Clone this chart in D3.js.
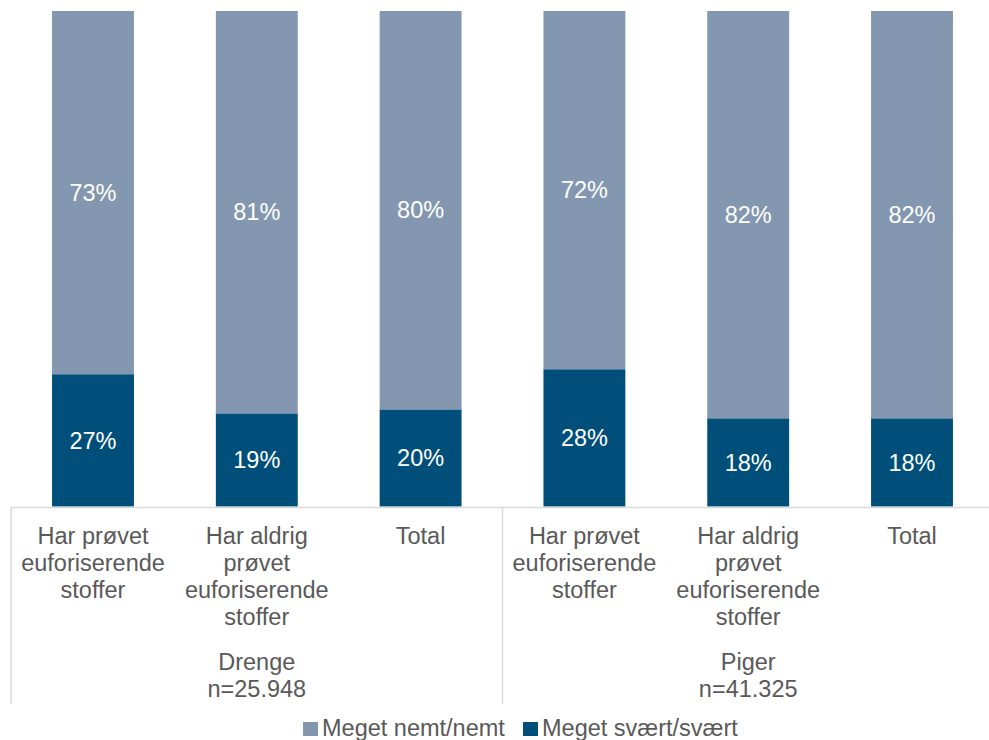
<!DOCTYPE html>
<html><head><meta charset="utf-8">
<script src="https://cdn.jsdelivr.net/npm/d3@7"></script>
<style>body{margin:0;background:#fff;}svg{display:block;font-family:"Liberation Sans",Arial,sans-serif;}</style>
</head><body><svg id="c" width="989" height="740"></svg>
<script>
const categories = [
  ["Har prøvet","euforiserende","stoffer"],
  ["Har aldrig","prøvet","euforiserende","stoffer"],
  ["Total"],
  ["Har prøvet","euforiserende","stoffer"],
  ["Har aldrig","prøvet","euforiserende","stoffer"],
  ["Total"]
];
const groups = [["Drenge","n=25.948"],["Piger","n=41.325"]];
const hard = [26.7, 18.8, 19.6, 27.7, 17.8, 17.8];   // Meget svært/svært
const easy = [73.3, 81.2, 80.4, 72.3, 82.2, 82.2];   // Meget nemt/nemt
const seriesNames = ["Meget nemt/nemt","Meget svært/svært"];
const colors = ["#8497b0","#004f7a"];

const FS = 23.5;
const svg = d3.select("#c");
const x = d3.scaleBand().domain(d3.range(6)).range([11.1, 993.9]).paddingInner(0.5).paddingOuter(0.25);
const y = d3.scaleLinear().domain([0,100]).range([506.5, 11]);

const data = categories.map((c,i)=>({i, hard:hard[i], easy:easy[i]}));
const layers = [
  {lo:d=>0, hi:d=>d.hard, val:d=>d.hard, color:colors[1]},
  {lo:d=>d.hard, hi:d=>d.hard+d.easy, val:d=>d.easy, color:colors[0]}
];
layers.forEach(L=>{
  const g = svg.append("g");
  g.selectAll("rect").data(data).join("rect")
    .attr("x", d=>x(d.i)).attr("width", x.bandwidth())
    .attr("y", d=>y(L.hi(d))).attr("height", d=>y(L.lo(d))-y(L.hi(d)))
    .attr("fill", L.color);
  g.selectAll("text").data(data).join("text")
    .attr("x", d=>x(d.i)+x.bandwidth()/2)
    .attr("y", d=>(y(L.hi(d))+y(L.lo(d)))/2)
    .attr("dy","0.35em").attr("text-anchor","middle")
    .attr("fill","#fff").attr("font-size",FS)
    .text(d=>Math.round(L.val(d))+"%");
});

const axisY = 507.5;
svg.append("line").attr("x1",11).attr("x2",989).attr("y1",axisY).attr("y2",axisY)
  .attr("stroke","#d9d9d9").attr("stroke-width",1.5);
[11.1, 502.5].forEach(px=>{
  svg.append("line").attr("x1",px).attr("x2",px).attr("y1",axisY).attr("y2",704)
    .attr("stroke","#d9d9d9").attr("stroke-width",1.5);
});

const lh = 27;
categories.forEach((lines,i)=>{
  const t = svg.append("text").attr("text-anchor","middle").attr("fill","#595959").attr("font-size",FS);
  lines.forEach((s,k)=>{
    t.append("tspan").attr("x", x(i)+x.bandwidth()/2).attr("y", 536+k*lh).attr("dy","0.35em").text(s);
  });
});
groups.forEach((lines,gi)=>{
  const cx = x(gi*3+1)+x.bandwidth()/2;
  const t = svg.append("text").attr("text-anchor","middle").attr("fill","#595959").attr("font-size",FS);
  lines.forEach((s,k)=>{
    t.append("tspan").attr("x", cx).attr("y", 662+k*lh).attr("dy","0.35em").text(s);
  });
});

const legend = svg.append("g");
const items = [{name:seriesNames[0],color:colors[0],x:303},{name:seriesNames[1],color:colors[1],x:523}];
items.forEach(it=>{
  legend.append("rect").attr("x",it.x).attr("y",722).attr("width",15).attr("height",14).attr("fill",it.color);
  legend.append("text").attr("x",it.x+19).attr("y",728).attr("dy","0.35em")
    .attr("fill","#595959").attr("font-size",FS).text(it.name);
});
</script></body></html>
